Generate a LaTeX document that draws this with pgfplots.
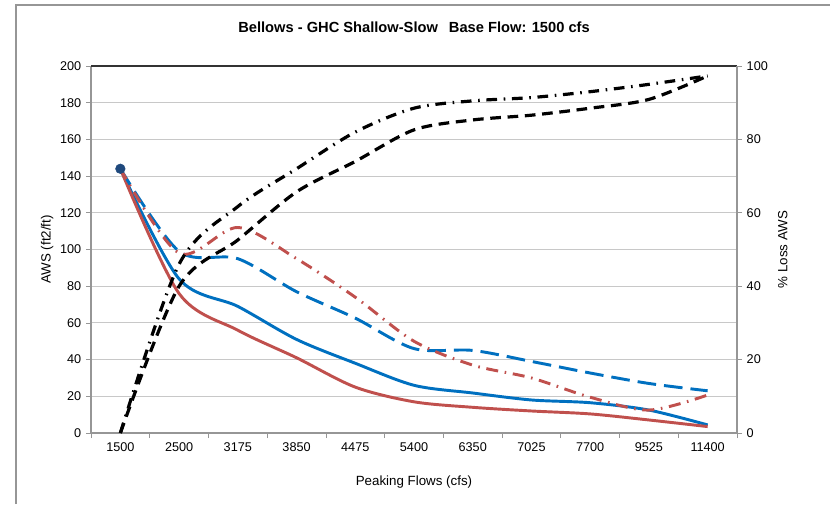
\documentclass[border=0pt]{standalone}
\usepackage{fontspec}
\setmainfont{Liberation Sans}
\usepackage{pgfplots}
\pgfplotsset{compat=1.18}
\usepackage{pgfplotstable}

\definecolor{xlblue}{RGB}{0,112,192}
\definecolor{xlred}{RGB}{192,80,77}
\definecolor{xlnavy}{RGB}{31,73,125}
\definecolor{gridgray}{RGB}{200,200,200}
\definecolor{axgray}{RGB}{150,150,150}

% x index: 0=1500 ... 10=11400
\pgfplotstableread{
x  bsolid rsolid bdash rdashdot
0  144    144    144   144
1  84     76     99    98
2  69     56     95    112
3  51     41     77    95
4  38     25     62.6  74
5  26     17     46    50
6  21.8   14     45    37
7  18     12     39    30
8  16.5   10.4   32.7  19.5
9  12.5   7.1    27    12.5
10 4.4    3.5    23    20.7
}\aws

\pgfplotstableread{
x  lossdash lossdashdot
0  0        0
1  40       46
2  52.6     61.7
3  65.7     72
4  74       82
5  82.6     88.5
6  85.3     90.5
7  86.6     91.4
8  88.5     93
9  90.9     95
10 97.3     97.3
}\loss

\pgfplotsset{
  every axis/.append style={
    scale only axis,
    width=484.5pt, height=275.25pt,
    xmin=-0.5, xmax=10.5,
    tick align=outside,
    major tick length=3.75pt,
    minor tick length=3.75pt,
    tick style={axgray, line width=0.6pt},
    axis line style={axgray, line width=0.8pt},
    ticklabel style={font=\fontsize{9.5}{11}\selectfont},
    label style={font=\fontsize{9.5}{11}\selectfont},
    /pgf/number format/assume math mode=true,
  },
}

\begin{document}
\begin{tikzpicture}
\path[use as bounding box] (0pt,0pt) rectangle (622.5pt,378pt);
\draw[axgray, line width=1.5pt] (12pt,0pt) -- (12pt,374.25pt) -- (622.5pt,374.25pt);

\begin{axis}[
  at={(68.25pt,53.25pt)}, anchor=south west,
  axis x line*=bottom, axis y line*=left,
  ymin=0, ymax=200,
  ytick={0,20,...,200},
  ymajorgrids,
  grid style={gridgray, line width=0.7pt},
  extra y ticks={200},
  extra y tick labels={},
  extra y tick style={grid style={black!80, line width=0.8pt}},
  xtick={0,...,10},
  xticklabels={1500,2500,3175,3850,4475,5400,6350,7025,7700,9525,11400},
  major x tick style={draw=none},
  minor xtick={-0.5,0.5,...,10.5},
  xlabel={Peaking Flows (cfs)},
  ylabel={AWS (ft2/ft)},
  every axis x label/.style={at={(axis description cs:0.5,-0.1335)}, anchor=center},
  every axis y label/.style={at={(axis description cs:-0.068,0.5)}, anchor=center, rotate=90},
  title={Bellows - GHC Shallow-Slow\hspace{0.75em}Base Flow: 1500 cfs},
  every axis title/.style={at={(axis description cs:0.5,1.106)}, anchor=center,
    font=\bfseries\fontsize{11}{13}\selectfont},
]
\addplot[xlblue, line width=2.2pt, smooth] table[x=x, y=bsolid] {\aws};
\addplot[xlred, line width=2.2pt, smooth] table[x=x, y=rsolid] {\aws};
\addplot[xlblue, line width=2.2pt, smooth, dash pattern=on 14pt off 6pt] table[x=x, y=bdash] {\aws};
\addplot[xlred, line width=2.2pt, smooth, dash pattern=on 9pt off 5pt on 1.2pt off 5pt] table[x=x, y=rdashdot] {\aws};
\addplot[only marks, mark=*, mark size=3.6pt, mark options={fill=xlnavy, draw=xlnavy}] coordinates {(0,144)};
\end{axis}

\begin{axis}[
  at={(68.25pt,53.25pt)}, anchor=south west,
  axis y line*=right, axis x line=none,
  ymin=0, ymax=100,
  ytick={0,20,...,100},
  ylabel={\% Loss AWS},
  every axis y label/.style={at={(axis description cs:1.071,0.5)}, anchor=center, rotate=90},
]
\addplot[black, line width=2.4pt, smooth, dash pattern=on 8pt off 5pt] table[x=x, y=lossdash] {\loss};
\addplot[black, line width=2.4pt, smooth, dash pattern=on 8pt off 5pt on 1.2pt off 5pt] table[x=x, y=lossdashdot] {\loss};
\end{axis}
\end{tikzpicture}
\end{document}
